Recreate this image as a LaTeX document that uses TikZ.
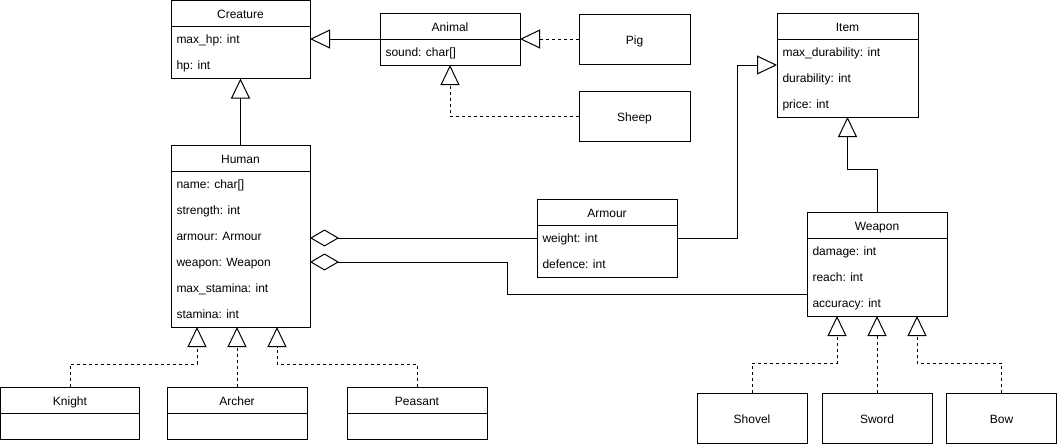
\documentclass[tikz,border=0pt]{standalone}
\usepackage{fontspec}
\setmainfont{Liberation Sans}
\usetikzlibrary{arrows.meta,positioning,calc}
\tikzset{every picture/.style={/utils/exec={\fontsize{12}{14}\selectfont}}}

\begin{document}
\begin{tikzpicture}[x=1pt, y=-1pt, line width=1pt,
    head/.style={draw=black, anchor=north west, outer sep=0pt, inner sep=0pt, minimum height=26pt, text height=10pt, text depth=0pt},
    body/.style={draw=black, outer sep=0pt, inner sep=0pt},
    field/.style={anchor=base west, inner sep=0pt},
    extends/.style={-{Triangle[open, length=20pt, width=19pt]}},
    realizes/.style={extends, dash pattern=on 3pt off 3pt},
    aggregates/.style={{Diamond[open, length=29pt, width=17pt]}-}]
    \useasboundingbox (0,0) rectangle (1058,445);

    \node[head, minimum width=139pt] (creature) at (171,0.5) {Creature};
    \node[body, minimum width=139pt, minimum height=52pt, below=0pt of creature] (creatureattr) {};
    \node[field] (maxhp) at (176,43.5) {max\_hp: int};
    \node[field] (hp) at (176,69.5) {hp: int};

    \node[head, minimum width=140pt] (animal) at (380,13) {Animal};
    \node[body, minimum width=140pt, minimum height=26pt, below=0pt of animal] (animalattr) {};
    \node[field] (sound) at (385,56.5) {sound: char[]};

    \node[head, minimum width=111pt, minimum height=50pt] (pig) at (579,14) {Pig};
    \node[head, minimum width=111pt, minimum height=50pt] (sheep) at (579,91) {Sheep};

    \node[head, minimum width=141pt] (item) at (777,13) {Item};
    \node[body, minimum width=141pt, minimum height=78pt, below=0pt of item] (itemattr) {};
    \node[field] (maxdur) at (782,56.5) {max\_durability: int};
    \node[field] (dur) at (782,82.5) {durability: int};
    \node[field] (price) at (782,108.5) {price: int};

    \node[head, minimum width=139pt] (human) at (171,145) {Human};
    \node[body, minimum width=139pt, minimum height=156pt, below=0pt of human] (humanattr) {};
    \node[field] (name) at (176,188.5) {name: char[]};
    \node[field] (strength) at (176,214.5) {strength: int};
    \node[field] (harmour) at (176,240.5) {armour: Armour};
    \node[field] (hweapon) at (176,266.5) {weapon: Weapon};
    \node[field] (maxstam) at (176,292.5) {max\_stamina: int};
    \node[field] (stam) at (176,318.5) {stamina: int};

    \node[head, minimum width=140pt] (armour) at (537,199) {Armour};
    \node[body, minimum width=140pt, minimum height=52pt, below=0pt of armour] (armourattr) {};
    \node[field] (weight) at (542,242.5) {weight: int};
    \node[field] (defence) at (542,268.5) {defence: int};

    \node[head, minimum width=140pt] (weapon) at (807,212) {Weapon};
    \node[body, minimum width=140pt, minimum height=78pt, below=0pt of weapon] (weaponattr) {};
    \node[field] (damage) at (812,255.5) {damage: int};
    \node[field] (reach) at (812,281.5) {reach: int};
    \node[field] (accuracy) at (812,307.5) {accuracy: int};

    \node[head, minimum width=139pt] (knight) at (0.5,387) {Knight};
    \node[body, minimum width=139pt, minimum height=26pt, below=0pt of knight] (knightattr) {};
    \node[head, minimum width=140pt] (archer) at (167,387) {Archer};
    \node[body, minimum width=140pt, minimum height=26pt, below=0pt of archer] (archerattr) {};
    \node[head, minimum width=140pt] (peasant) at (347,387) {Peasant};
    \node[body, minimum width=140pt, minimum height=26pt, below=0pt of peasant] (peasantattr) {};

    \node[head, minimum width=110pt, minimum height=50pt] (shovel) at (697,393) {Shovel};
    \node[head, minimum width=110pt, minimum height=50pt] (sword) at (822,393) {Sword};
    \node[head, minimum width=110pt, minimum height=50pt] (bow) at (946.5,393) {Bow};

    \draw[extends] (animal.south west) -- (animal.south west -| creatureattr.east);
    \draw[realizes] (pig.west) -- (pig.west -| animal.east);
    \draw[realizes] (sheep.west) -| (animalattr.south);
    \draw[extends] (human.north) -- (creatureattr.south);

    \coordinate (knightbend) at (197,364);
    \coordinate (peasantbend) at (277,364);
    \draw[realizes] (knight.north) |- (knightbend) -- (knightbend |- humanattr.south);
    \draw[realizes] (archer.north) -- (archer.north |- humanattr.south);
    \draw[realizes] (peasant.north) |- (peasantbend) -- (peasantbend |- humanattr.south);

    \coordinate (armourlink) at ($(armourattr.north west)+(0,13)$);
    \coordinate (armourbend) at (737,65);
    \draw[aggregates] (humanattr.east |- armourlink) -- (armourlink);
    \draw[extends] ($(armourattr.north east)+(0,13)$) -| (armourbend) -- (armourbend -| itemattr.west);

    \coordinate (weaponbend) at (507,294);
    \draw[aggregates] ($(humanattr.north east)+(0,91)$) -| (weaponbend) -- (weaponbend -| weaponattr.west);

    \coordinate (itembend) at (877,169);
    \draw[extends] (weapon.north) -- (itembend) -| (itemattr.south);

    \coordinate (shovelbend) at (837,363);
    \coordinate (bowbend) at (917,363);
    \draw[realizes] (shovel.north) |- (shovelbend) -- (shovelbend |- weaponattr.south);
    \draw[realizes] (sword.north) -- (sword.north |- weaponattr.south);
    \draw[realizes] (bow.north) |- (bowbend) -- (bowbend |- weaponattr.south);
\end{tikzpicture}
\end{document}
